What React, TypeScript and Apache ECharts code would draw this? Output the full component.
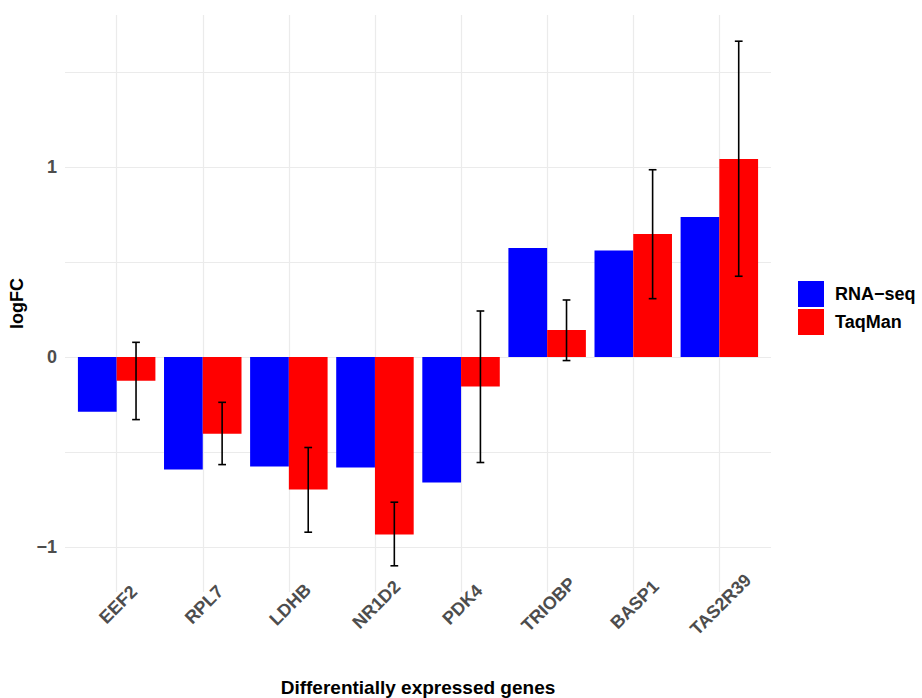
import React, { useEffect, useRef } from "react";
import * as echarts from "echarts";

const genes = ["EEF2", "RPL7", "LDHB", "NR1D2", "PDK4", "TRIOBP", "BASP1", "TAS2R39"];
const rnaSeq = [-0.288, -0.593, -0.577, -0.582, -0.661, 0.574, 0.56, 0.737];
const taqMan = [-0.125, -0.404, -0.698, -0.935, -0.156, 0.142, 0.647, 1.042];
const taqLow = [-0.33, -0.567, -0.923, -1.1, -0.556, -0.019, 0.307, 0.425];
const taqHigh = [0.077, -0.239, -0.477, -0.765, 0.242, 0.3, 0.986, 1.663];
const yTicks = [-1, -0.5, 0, 0.5, 1, 1.5];
const yLabels = [-1, 0, 1];
const seriesNames = ["RNA\u2212seq", "TaqMan"];
const seriesColors = ["#0000FF", "#FF0000"];

const FONT = "'Liberation Sans', Arial, Helvetica, sans-serif";
const BAR_W = 0.45;

function barRenderer(offset: number, color: string) {
  return (params: any, api: any) => {
    const i = api.value(0);
    const v = api.value(1);
    const p0 = api.coord([i + offset, 0]);
    const p1 = api.coord([i + offset + BAR_W, v]);
    return {
      type: "rect",
      shape: {
        x: p0[0],
        y: Math.min(p0[1], p1[1]),
        width: p1[0] - p0[0],
        height: Math.abs(p1[1] - p0[1]),
      },
      style: { fill: color },
    };
  };
}

function errRenderer(params: any, api: any) {
  const i = api.value(0);
  const lo = api.value(1);
  const hi = api.value(2);
  const cx = i + BAR_W / 2;
  const cap = 0.045;
  const top = api.coord([cx, hi]);
  const bot = api.coord([cx, lo]);
  const tl = api.coord([cx - cap, hi]);
  const tr = api.coord([cx + cap, hi]);
  const bl = api.coord([cx - cap, lo]);
  const br = api.coord([cx + cap, lo]);
  const st = { stroke: "#000000", lineWidth: 1.6 };
  return {
    type: "group",
    children: [
      { type: "line", shape: { x1: top[0], y1: top[1], x2: bot[0], y2: bot[1] }, style: st },
      { type: "line", shape: { x1: tl[0], y1: tl[1], x2: tr[0], y2: tr[1] }, style: st },
      { type: "line", shape: { x1: bl[0], y1: bl[1], x2: br[0], y2: br[1] }, style: st },
    ],
  };
}

export default function App() {
  const ref = useRef<HTMLDivElement>(null);
  useEffect(() => {
    if (!ref.current) return;
    const chart = echarts.init(ref.current, null, { renderer: "svg" });
    const idx = genes.map((_, i) => i);
    chart.setOption({
      animation: false,
      backgroundColor: "#FFFFFF",
      textStyle: { fontFamily: FONT },
      grid: {
        left: 65,
        right: 151,
        top: 15,
        bottom: 106,
        containLabel: false,
        outerBoundsMode: "none",
      },
      legend: {
        orient: "vertical",
        left: 798,
        top: 281,
        padding: 0,
        itemWidth: 26,
        itemHeight: 26,
        itemGap: 2,
        data: seriesNames.map((n) => ({ name: n, icon: "rect" })),
        textStyle: {
          fontFamily: FONT,
          fontWeight: "bold",
          fontSize: 18,
          color: "#000000",
          padding: [0, 0, 0, 6],
        },
      },
      xAxis: {
        type: "value",
        min: -0.6,
        max: 7.6,
        axisLine: { show: false },
        axisTick: { show: false, customValues: idx },
        splitLine: { show: true, lineStyle: { color: "#EBEBEB", width: 1.2 } },
        axisLabel: {
          customValues: idx,
          formatter: (v: number) => genes[Math.round(v)] ?? "",
          rotate: 45,
          align: "center",
          verticalAlign: "middle",
          margin: 14,
          padding: [0, 0, 0, 4],
          fontFamily: FONT,
          fontWeight: "bold",
          fontSize: 18,
          color: "#4D4D4D",
        },
        name: "Differentially expressed genes",
        nameLocation: "middle",
        nameGap: 95,
        nameTextStyle: {
          fontFamily: FONT,
          fontWeight: "bold",
          fontSize: 19,
          color: "#000000",
          verticalAlign: "middle",
        },
      },
      yAxis: {
        type: "value",
        min: -1.238,
        max: 1.801,
        axisLine: { show: false },
        axisTick: { show: false, customValues: yTicks },
        splitLine: { show: true, lineStyle: { color: "#EBEBEB", width: 1.2 } },
        axisLabel: {
          customValues: yLabels,
          formatter: (v: number) => (v < 0 ? "\u2212" + Math.abs(v) : String(v)),
          margin: 8,
          fontFamily: FONT,
          fontWeight: "bold",
          fontSize: 18,
          color: "#4D4D4D",
        },
        name: "logFC",
        nameLocation: "middle",
        nameGap: 47,
        nameTextStyle: {
          fontFamily: FONT,
          fontWeight: "bold",
          fontSize: 18,
          color: "#000000",
          verticalAlign: "middle",
        },
      },
      series: [
        {
          name: seriesNames[0],
          type: "custom",
          itemStyle: { color: seriesColors[0] },
          renderItem: barRenderer(-BAR_W, seriesColors[0]),
          encode: { x: 0, y: 1 },
          data: rnaSeq.map((v, i) => [i, v]),
          z: 2,
        },
        {
          name: seriesNames[1],
          type: "custom",
          itemStyle: { color: seriesColors[1] },
          renderItem: barRenderer(0, seriesColors[1]),
          encode: { x: 0, y: 1 },
          data: taqMan.map((v, i) => [i, v]),
          z: 2,
        },
        {
          name: "TaqMan error",
          type: "custom",
          renderItem: errRenderer,
          encode: { x: 0, y: [1, 2] },
          data: taqLow.map((lo, i) => [i, lo, taqHigh[i]]),
          z: 3,
        },
      ],
    });
    return () => chart.dispose();
  }, []);
  return (
    <div
      ref={ref}
      style={{ position: "fixed", left: 0, top: 0, width: 922, height: 698, background: "#fff" }}
    />
  );
}
